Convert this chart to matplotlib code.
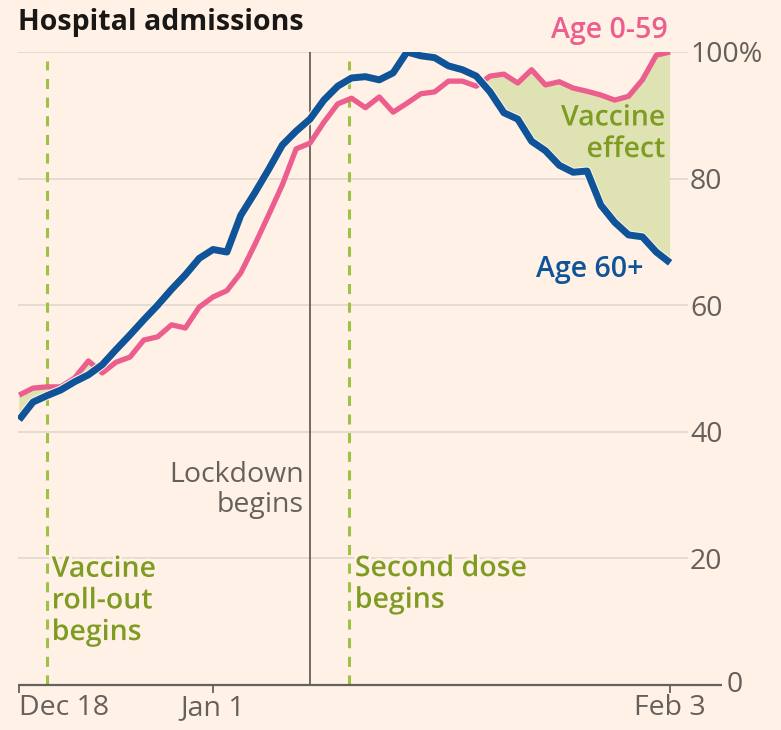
import matplotlib
matplotlib.use("Agg")
import matplotlib.pyplot as plt
import matplotlib.patheffects as pe
import numpy as np
import pandas as pd

# Daily dates, Dec 18 2020 -> Feb 3 2021
dates = pd.date_range("2020-12-18", "2021-02-03", freq="D")

# Hospital admissions as % of peak
age_60_plus = [
    41.9, 44.7, 45.7, 46.6, 47.9, 49.0, 50.6, 53.0, 55.3, 57.7,
    60.0, 62.5, 64.8, 67.4, 68.8, 68.4, 74.2, 77.7, 81.4, 85.3,
    87.5, 89.4, 92.4, 94.6, 95.9, 96.1, 95.6, 96.7, 100.0, 99.4,
    99.1, 97.8, 97.2, 96.2, 93.7, 90.4, 89.4, 85.9, 84.4, 82.1,
    81.0, 81.2, 75.8, 73.1, 71.1, 70.8, 68.4, 66.7,
]
age_0_59 = [
    45.8, 46.9, 47.1, 47.1, 48.5, 51.2, 49.3, 51.0, 51.8, 54.5,
    55.0, 56.9, 56.4, 59.7, 61.3, 62.3, 65.1, 69.5, 74.2, 79.0,
    84.7, 85.6, 88.9, 91.8, 92.7, 91.2, 92.9, 90.5, 91.9, 93.4,
    93.7, 95.4, 95.4, 94.6, 96.2, 96.5, 95.1, 97.2, 94.8, 95.3,
    94.3, 93.8, 93.2, 92.4, 93.0, 95.6, 99.5, 100.0,
]

y_ticks = [0, 20, 40, 60, 80, 100]
y_ticklabels = ["", "20", "40", "60", "80", "100%"]
x_ticks = pd.to_datetime(["2020-12-18", "2021-01-01", "2021-02-03"])
x_ticklabels = ["Dec 18", "Jan 1", "Feb 3"]

rollout_date = pd.Timestamp("2020-12-20")
lockdown_date = pd.Timestamp("2021-01-08")
second_dose_date = pd.Timestamp("2021-01-10 20:00")

BG = "#fff1e5"
BLUE = "#0f5499"
PINK = "#eb5e8d"
FILL = "#dfe3b4"
OLIVE = "#7f9c22"
DASH = "#9fc246"
GREY = "#66605c"
GRID = "#e3d9cf"
FS = 20.5

plt.rcParams["font.family"] = ["Open Sans", "DejaVu Sans"]

fig = plt.figure(figsize=(7.81, 7.30), dpi=100, facecolor=BG)
ax = fig.add_axes([18 / 781, 1 - 685 / 730, (688 - 18) / 781, (685 - 52) / 730])
ax.set_facecolor(BG)

ax.set_xlim(dates[0] - pd.Timedelta(hours=2), dates[-1] + pd.Timedelta(hours=31))
ax.set_ylim(0, 100)

# gridlines
for v in y_ticks[1:]:
    ax.axhline(v, color=GRID, lw=1.3, zorder=0)

# baseline, extended past the axes to the "0" label
ax.plot([0, 1.05], [0, 0], transform=ax.transAxes, color=GREY, lw=1.6,
        clip_on=False, zorder=5, solid_capstyle="butt")

# event markers
ax.axvline(lockdown_date, color=GREY, lw=1.3, zorder=1)
for d in (rollout_date, second_dose_date):
    ax.plot([d, d], [0, 98.5], color=DASH, lw=2.2, dashes=(3.3, 2.8), zorder=1)

# shaded gap where younger admissions outrun older
a60 = np.array(age_60_plus)
a059 = np.array(age_0_59)
ax.fill_between(dates, a60, a059, where=a059 >= a60, interpolate=True,
                color=FILL, lw=0, zorder=2)

ax.plot(dates, age_0_59, color=PINK, lw=3.8, zorder=3,
        solid_joinstyle="round", solid_capstyle="butt")
ax.plot(dates, age_60_plus, color=BLUE, lw=5.0, zorder=4,
        solid_joinstyle="round", solid_capstyle="butt",
        path_effects=[pe.Stroke(linewidth=6.5, foreground=BG), pe.Normal()])

# axes styling
for s in ax.spines.values():
    s.set_visible(False)
ax.yaxis.tick_right()
ax.set_yticks(y_ticks)
ax.set_yticklabels(y_ticklabels)
ax.tick_params(axis="y", length=0, pad=1.5, labelsize=FS, labelcolor=GREY)
ax.set_xticks(x_ticks)
ax.set_xticklabels(x_ticklabels)
ax.tick_params(axis="x", length=6, width=1.3, color=GREY, pad=0.5,
               labelsize=FS, labelcolor=GREY)
ax.get_xticklabels()[0].set_horizontalalignment("left")
ax.text(1.058, 0, "0", transform=ax.transAxes, ha="left", va="center",
        fontsize=FS, color=GREY)

halo = [pe.withStroke(linewidth=4, foreground=BG)]


def label(text, x, y, dx, color, ha, effects=None, weight="semibold"):
    # y is the baseline of the last line
    ax.annotate(text, xy=(x, y), xytext=(dx, 0), textcoords="offset points",
                color=color, fontsize=FS, fontweight=weight, ha=ha,
                va="baseline", linespacing=1.12, path_effects=effects,
                annotation_clip=False)


fig.text(18 / 781, 1 - 30 / 730, "Hospital admissions", fontsize=20.5,
         fontweight="bold", color="#1a1817", ha="left", va="baseline")

label("Age 0-59", dates[-1], 102.2, -1.5, PINK, "right")
label("Vaccine\neffect", dates[-1], 83.4, -3.5, OLIVE, "right",
      [pe.withStroke(linewidth=4, foreground=FILL)])
label("Age 60+", dates[-1], 64.5, -19, BLUE, "right")
label("Lockdown\nbegins", lockdown_date, 27.3, -4.5, GREY, "right",
      weight="normal")
label("Vaccine\nroll-out\nbegins", rollout_date, 7.1, 3.5, OLIVE, "left", halo)
label("Second dose\nbegins", second_dose_date, 12.2, 4, OLIVE, "left", halo)

fig.savefig("out.png", dpi=100, facecolor=BG)
